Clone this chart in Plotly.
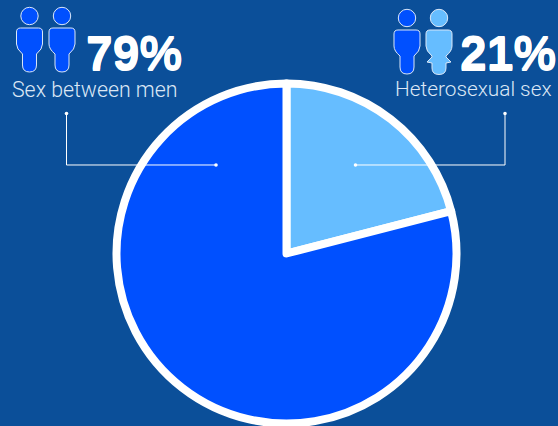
import plotly.graph_objects as go

categories = ["Heterosexual sex", "Sex between men"]
values = [21, 79]
slice_colors = ["#66BDFF", "#0050FF"]
BG = "#0B4F99"
W, H = 558, 426

def px(x): return x / W
def py(y): return 1 - y / H

fig = go.Figure(go.Pie(
    labels=categories, values=values, sort=False, direction="clockwise", rotation=0,
    textinfo="none", showlegend=False,
    marker=dict(colors=slice_colors, line=dict(color="white", width=8)),
    domain=dict(x=[px(116.5), px(456.5)], y=[py(423.5), py(83.5)]),
))

shapes = []

def circle(cx, cy, r, fill, lw=1):
    shapes.append(dict(type="circle", xref="paper", yref="paper",
                       x0=px(cx - r), x1=px(cx + r), y0=py(cy + r), y1=py(cy - r),
                       fillcolor=fill, line=dict(color="#DCE8F8", width=lw), layer="above"))

def person(cx, fill, dress=False, top=7):
    circle(cx, top + 9, 8.7, fill)
    L, R = cx - 13, cx + 13
    t = top + 21
    pts = [("M", L + 4, t), ("L", R - 4, t), ("Q", R, t, R, t + 4), ("L", R, t + 16),
           ("Q", R, t + 21, cx + 7, t + 26)]
    if dress:
        pts += [("L", cx + 7, t + 27), ("L", cx + 12, t + 32), ("L", cx + 7, t + 33), ("L", cx + 7, t + 38),
                ("Q", cx + 7, t + 44.5, cx, t + 44.5), ("Q", cx - 7, t + 44.5, cx - 7, t + 38),
                ("L", cx - 7, t + 33), ("L", cx - 12, t + 32), ("L", cx - 7, t + 27)]
    else:
        pts += [("L", cx + 7, t + 37), ("Q", cx + 7, t + 44, cx, t + 44),
                ("Q", cx - 7, t + 44, cx - 7, t + 37)]
    pts += [("L", cx - 7, t + 26), ("Q", L, t + 21, L, t + 16), ("L", L, t + 4), ("Q", L, t, L + 4, t), ("Z",)]
    d = ""
    for cmd, *c in pts:
        d += cmd + " ".join(f"{px(c[i]):.5f},{py(c[i+1]):.5f}" for i in range(0, len(c), 2)) + " "
    shapes.append(dict(type="path", xref="paper", yref="paper", path=d, layer="above",
                       fillcolor=fill, line=dict(color="#DCE8F8", width=1)))

person(29.5, "#0050FF")
person(62, "#0050FF")
person(407, "#0050FF", top=9)
person(439, "#66BDFF", dress=True, top=9)

def connector(points):
    d = ""
    for i, (x, y) in enumerate(points):
        d += ("M" if i == 0 else "L") + f"{px(x):.5f},{py(y):.5f} "
    shapes.append(dict(type="path", xref="paper", yref="paper", path=d, layer="above",
                       line=dict(color="white", width=1)))
    for x, y in (points[0], points[-1]):
        shapes.append(dict(type="circle", xref="paper", yref="paper",
                           x0=px(x - 1.8), x1=px(x + 1.8), y0=py(y + 1.8), y1=py(y - 1.8),
                           fillcolor="white", line=dict(color="white", width=0), layer="above"))

connector([(66.5, 113.5), (66.5, 165), (216, 165)])
connector([(505, 113.5), (505, 165), (355.5, 165)])

def text(x, y, s, size, family, color="white", weight="normal", shadow="none"):
    return dict(xref="paper", yref="paper", x=px(x), y=py(y), text=s, showarrow=False,
                xanchor="left", yanchor="middle",
                font=dict(family=family, size=size, color=color, weight=weight, shadow=shadow))

BIG = "Liberation Sans"
SMALL = "Roboto, Liberation Sans"
THICK = "0 0.7px 0 white, 0 -0.7px 0 white"
annotations = [
    text(83.5, 53, "79%", 48, BIG, weight="bold", shadow=THICK),
    text(457.5, 53, "21%", 48, BIG, weight="bold", shadow=THICK),
    text(10, 89, "Sex between men", 21.3, SMALL, color="#DCE7F5", weight=300),
    text(393, 89, "Heterosexual sex", 20.8, SMALL, color="#DCE7F5", weight=300),
]

fig.update_layout(
    width=W, height=H, margin=dict(l=0, r=0, t=0, b=0), autosize=False,
    paper_bgcolor=BG, plot_bgcolor=BG, shapes=shapes, annotations=annotations,
)
fig.write_html("out.html", config=dict(displayModeBar=False),
               post_script="document.documentElement.style.margin='0';document.body.style.margin='0';document.body.style.background='#0B4F99';document.body.style.overflow='hidden';")
